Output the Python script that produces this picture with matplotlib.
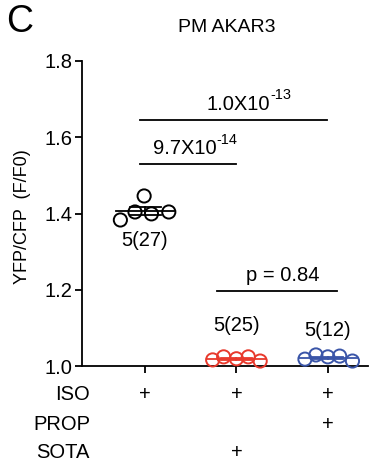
import matplotlib
matplotlib.use("Agg")
import matplotlib.pyplot as plt
import numpy as np
from matplotlib.transforms import blended_transform_factory, offset_copy

plt.rcParams['font.family'] = ['Liberation Sans', 'DejaVu Sans']

# ---- data ----
groups = ["ISO", "ISO+SOTA", "ISO+PROP"]
positions = [1, 2, 3]
vals_ctrl = [1.383, 1.404, 1.446, 1.399, 1.404]
vals_sota = [1.016, 1.024, 1.019, 1.024, 1.013]
vals_prop = [1.018, 1.029, 1.024, 1.026, 1.013]
jitter_ctrl = [-0.27, -0.11, -0.01, 0.07, 0.26]
jitter_sota = [-0.26, -0.14, 0.0, 0.13, 0.26]
jitter_prop = [-0.25, -0.13, 0.0, 0.13, 0.27]
colors = ["black", "#e8392c", "#3a55a8"]
counts = ["5(27)", "5(25)", "5(12)"]
count_y = [1.328, 1.105, 1.094]
sig_x0 = [0.945, 0.945, 1.79]
sig_x1 = [2.99, 2.0, 3.10]
sig_y = [1.646, 1.530, 1.197]
sig_label_x = [2.137, 1.546, 2.508]
sig_base = ["1.0X10", "9.7X10", "p = 0.84"]
sig_sup = ["-13", "-14", ""]
row_labels = ["ISO", "PROP", "SOTA"]
row_marks = [[1, 1, 1], [0, 0, 1], [0, 1, 0]]
yticks = [1.0, 1.2, 1.4, 1.6, 1.8]

FS = 14.5
W, H = 383, 470
fig = plt.figure(figsize=(W / 100, H / 100), dpi=100)
ax = fig.add_axes([82 / W, 1 - 366 / H, (368 - 82) / W, (366 - 61) / H])

all_vals = [vals_ctrl, vals_sota, vals_prop]
all_jit = [jitter_ctrl, jitter_sota, jitter_prop]
for p, v, j, c in zip(positions, all_vals, all_jit, colors):
    v = np.array(v)
    m = v.mean()
    sem = v.std(ddof=1) / np.sqrt(len(v))
    ax.plot([p - 0.32, p + 0.32], [m, m], color=c, lw=1.3, zorder=2)
    ax.plot([p, p], [m - sem, m + sem], color=c, lw=1.3, zorder=2)
    ax.plot([p - 0.17, p + 0.17], [m + sem, m + sem], color=c, lw=1.3, zorder=2)
    ax.plot([p - 0.17, p + 0.17], [m - sem, m - sem], color=c, lw=1.3, zorder=2)
    ax.scatter(np.array(j) + p, v, s=90, facecolors='none', edgecolors=c,
               linewidths=1.4, zorder=3, clip_on=False)

for p, lab, y in zip(positions, counts, count_y):
    ax.text(p, y, lab, ha='center', va='center', fontsize=FS)

fig.canvas.draw()
renderer = fig.canvas.get_renderer()
for x0, x1, y, xc, base, sup in zip(sig_x0, sig_x1, sig_y, sig_label_x, sig_base, sig_sup):
    ax.plot([x0, x1], [y, y], color='black', lw=1.3)
    t1 = ax.text(0, 0, base, fontsize=FS)
    w1 = t1.get_window_extent(renderer).width
    t1.remove()
    w2 = 0
    if sup:
        t2 = ax.text(0, 0, sup, fontsize=FS * 0.72)
        w2 = t2.get_window_extent(renderer).width
        t2.remove()
    total = w1 + w2
    tr = offset_copy(ax.transData, fig=fig, x=-total / 2 * 72 / 100, y=4, units='points')
    ax.text(xc, y, base, ha='left', va='bottom', fontsize=FS, transform=tr)
    if sup:
        tr2 = offset_copy(ax.transData, fig=fig, x=(-total / 2 + w1) * 72 / 100, y=12.5, units='points')
        ax.text(xc, y, sup, ha='left', va='bottom', fontsize=FS * 0.72, transform=tr2)

ax.set_xlim(0.31, 3.44)
ax.set_ylim(1.0, 1.8)
ax.set_yticks(yticks)
ax.set_yticklabels([f"{t:.1f}" for t in yticks], fontsize=FS)
ax.set_xticks(positions)
ax.set_xticklabels([])
ax.tick_params(axis='both', direction='out', length=5, width=1.3, color='black')
ax.tick_params(axis='y', pad=2)
for s in ['top', 'right']:
    ax.spines[s].set_visible(False)
for s in ['left', 'bottom']:
    ax.spines[s].set_linewidth(1.3)

ax.set_ylabel("YFP/CFP  (F/F0)", fontsize=13)
ax.yaxis.set_label_coords(-0.18, 0.49)

fig.text(227 / W, 1 - 28 / H, "PM AKAR3", fontsize=14, ha='center', va='center')
fig.text(6 / W, 1 - 22 / H, "C", fontsize=27, va='center', ha='left')

trans = blended_transform_factory(ax.transData, fig.transFigure)
row_y = [395, 424, 453]
for lab, marks, ry in zip(row_labels, row_marks, row_y):
    fig.text(90 / W, 1 - ry / H, lab, ha='right', va='center', fontsize=FS)
    for p, mk in zip(positions, marks):
        if mk:
            ax.text(p, 1 - ry / H, "+", transform=trans, ha='center', va='center', fontsize=FS)

fig.savefig("out.png", dpi=100)
